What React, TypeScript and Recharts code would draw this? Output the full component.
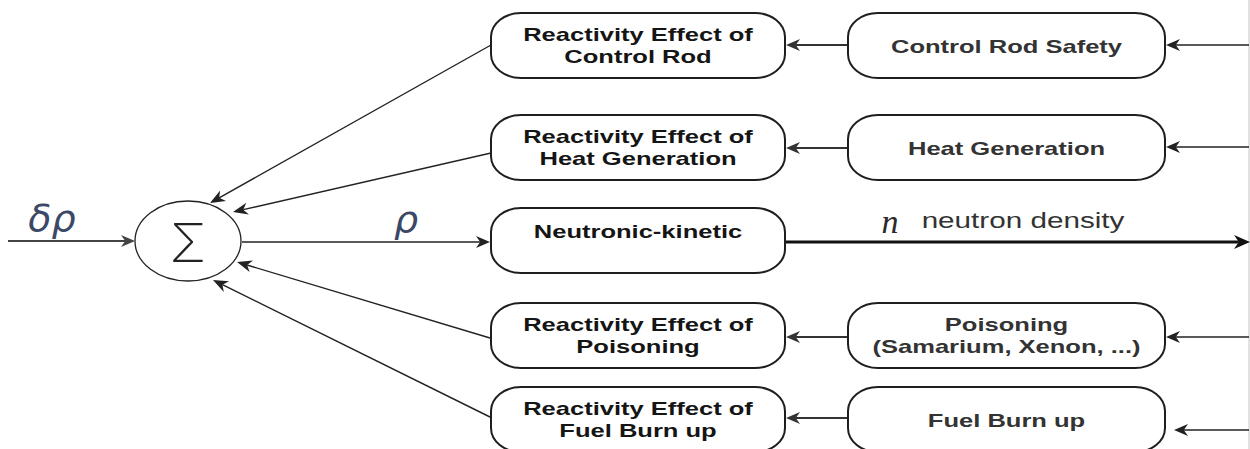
import { ScatterChart, Scatter, XAxis, YAxis, ReferenceLine } from 'recharts'

const W = 1250
const H = 449

// rows of the diagram (y of each box centre) and the two box columns
const ROW_Y = [45.5, 147.5, 240.5, 335.5, 419.5]
const EFFECT_X = 638
const SOURCE_X = 1006.5

const EFFECT_LABELS = [
  ['Reactivity Effect of', 'Control Rod'],
  ['Reactivity Effect of', 'Heat Generation'],
  ['Neutronic-kinetic'],
  ['Reactivity Effect of', 'Poisoning'],
  ['Reactivity Effect of', 'Fuel Burn up'],
]
const SOURCE_LABELS = [
  ['Control Rod Safety'],
  ['Heat Generation'],
  [],
  ['Poisoning', '(Samarium, Xenon, ...)'],
  ['Fuel Burn up'],
]

const SUM_NODE = [{ x: 188, y: 241 }]

// feedback arrows: effect box -> summing junction
const FEEDBACK_FROM = [[491, 45], [491, 153], [490, 338], [490, 417]]
const FEEDBACK_TO = [[210, 203], [233, 212], [237, 262], [213, 280]]

// source box -> effect box
const SOURCE_ARROW_Y = [45, 148, 337, 418]
// right rail -> source box
const INPUT_ARROW_Y = [45, 147, 337, 430]
const INPUT_TIP_X = [1166, 1166, 1166, 1174]

const LABELS = [
  { x: 52, y: 218, text: 'δρ', kind: 'math' },
  { x: 406, y: 219, text: 'ρ', kind: 'math' },
  { x: 890, y: 221, text: 'n', kind: 'var' },
  { x: 1023, y: 221, text: 'neutron density', kind: 'plain' },
]

const STRETCH = 1.38
const FONT = "'Liberation Sans', Arial, sans-serif"
const EFFECT_W = 294
const SOURCE_W = 317
const BOX_H = 65

const effectNodes = ROW_Y.map((y, i) => ({ x: EFFECT_X, y, lines: EFFECT_LABELS[i] }))
const sourceNodes = ROW_Y.map((y, i) => ({ x: SOURCE_X, y, lines: SOURCE_LABELS[i] })).filter(n => n.lines.length)

const WideText = ({ x, y, size, weight, fill, children }: any) => (
  <text
    transform={`translate(${x} ${y}) scale(${STRETCH} 1)`}
    textAnchor="middle"
    dominantBaseline="central"
    fontFamily={FONT}
    fontSize={size}
    fontWeight={weight}
    fill={fill}
  >
    {children}
  </text>
)

const boxShape = (w: number, fill: string) => (props: any) => {
  const { cx, cy, payload } = props
  const lines: string[] = payload.lines
  const offsets = lines.length === 2 ? [-11, 11.5] : [lines[0] === 'Neutronic-kinetic' ? -9 : 1]
  return (
    <g>
      <rect x={cx - w / 2} y={cy - BOX_H / 2} width={w} height={BOX_H} rx={30} ry={24}
        fill="#fff" stroke="#1e1e1e" strokeWidth={2} />
      {lines.map((l, i) => (
        <WideText key={i} x={cx} y={cy + offsets[i]} size={18.5} weight="bold" fill={fill}>{l}</WideText>
      ))}
    </g>
  )
}

const SumShape = (props: any) => {
  const { cx, cy } = props
  return (
    <g>
      <ellipse cx={cx} cy={cy} rx={53} ry={40} fill="#fff" stroke="#222" strokeWidth={1.3} />
      <text x={cx} y={cy + 1} textAnchor="middle" dominantBaseline="central"
        fontFamily="Inter, 'DejaVu Sans', sans-serif" fontWeight={200} fontSize={54} fill="#222">Σ</text>
    </g>
  )
}

const LabelShape = (props: any) => {
  const { cx, cy, payload } = props
  if (payload.kind === 'plain') {
    return <WideText x={cx} y={cy} size={21.5} weight="normal" fill="#333">{payload.text}</WideText>
  }
  if (payload.kind === 'var') {
    return (
      <text x={cx} y={cy} textAnchor="middle" dominantBaseline="central"
        fontFamily="'Liberation Serif', serif" fontStyle="italic" fontSize={34} fill="#2a2a2a">{payload.text}</text>
    )
  }
  return (
    <text x={cx} y={cy} textAnchor="middle" dominantBaseline="central"
      fontFamily="'DejaVu Sans', sans-serif" fontStyle="italic" fontSize={38} fill="#3b4866">{payload.text}</text>
  )
}

const arrowShape = (stroke: string, width: number, len: number, half: number) => (p: any) => {
  const { x1, y1, x2, y2 } = p
  const a = Math.atan2(y2 - y1, x2 - x1)
  const c = Math.cos(a)
  const s = Math.sin(a)
  const pt = (bx: number, by: number) => `${x2 + bx * c - by * s},${y2 + bx * s + by * c}`
  return (
    <g>
      <line x1={x1} y1={y1} x2={x2 - c * len * 0.7} y2={y2 - s * len * 0.7} stroke={stroke} strokeWidth={width} />
      <polygon points={[pt(0, 0), pt(-len, -half), pt(-len * 0.7, 0), pt(-len, half)].join(' ')} fill={stroke} />
    </g>
  )
}

const seg = (a: number[], b: number[]) => [{ x: a[0], y: a[1] }, { x: b[0], y: b[1] }]

export default function App() {
  return (
    <div style={{ position: 'absolute', left: 0, top: 0, background: '#fff' }}>
      <ScatterChart width={W} height={H} margin={{ top: 0, right: 0, bottom: 0, left: 0 }}>
        <XAxis type="number" dataKey="x" domain={[0, W]} hide />
        <YAxis type="number" dataKey="y" domain={[0, H]} reversed hide />

        <ReferenceLine x={1249} stroke="#c4c4c4" strokeWidth={1} ifOverflow="visible" />

        {/* input δρ and ρ */}
        <ReferenceLine segment={seg([8, 241], [135, 241])} ifOverflow="visible" shape={arrowShape('#444', 2, 14, 6)} />
        <ReferenceLine segment={seg([242, 242], [490, 242])} ifOverflow="visible" shape={arrowShape('#222', 1.5, 14, 6)} />
        {/* neutron density output */}
        <ReferenceLine segment={seg([785, 242], [1250, 242])} ifOverflow="visible" shape={arrowShape('#111', 3, 16, 7)} />

        {FEEDBACK_FROM.map((f, i) => (
          <ReferenceLine key={'fb' + i} segment={seg(f, FEEDBACK_TO[i])} ifOverflow="visible" shape={arrowShape('#222', 1.4, 15, 6)} />
        ))}
        {SOURCE_ARROW_Y.map((y, i) => (
          <ReferenceLine key={'sa' + i} segment={seg([848, y], [786, y])} ifOverflow="visible" shape={arrowShape('#333', 2, 14, 6)} />
        ))}
        {INPUT_ARROW_Y.map((y, i) => (
          <ReferenceLine key={'ia' + i} segment={seg([1249, y], [INPUT_TIP_X[i], y])} ifOverflow="visible" shape={arrowShape('#222', 1.5, 14, 6)} />
        ))}

        <Scatter data={SUM_NODE} shape={SumShape} isAnimationActive={false} />
        <Scatter data={effectNodes} shape={boxShape(EFFECT_W, '#151515')} isAnimationActive={false} />
        <Scatter data={sourceNodes} shape={boxShape(SOURCE_W, '#333')} isAnimationActive={false} />
        <Scatter data={LABELS} shape={LabelShape} isAnimationActive={false} />
      </ScatterChart>
    </div>
  )
}
